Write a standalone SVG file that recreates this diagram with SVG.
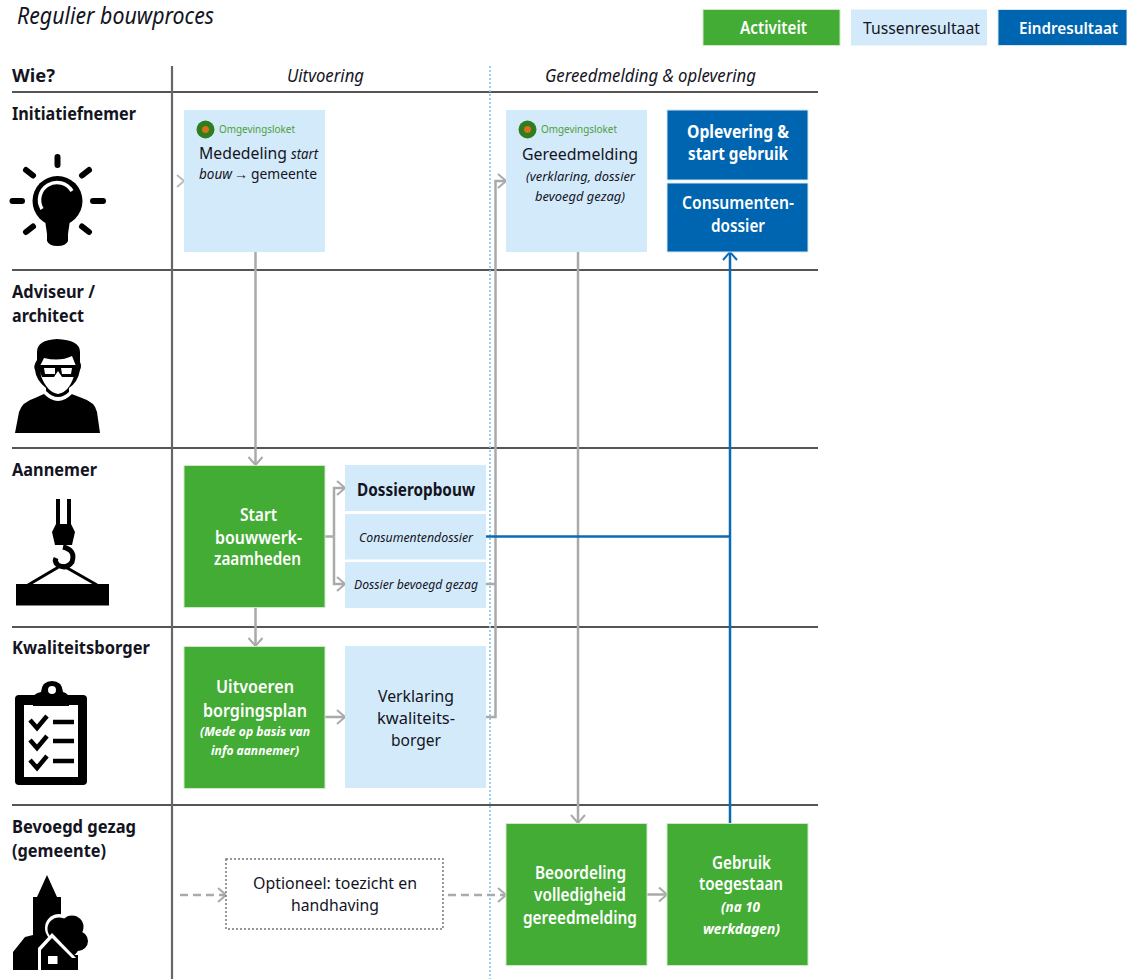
<svg xmlns="http://www.w3.org/2000/svg" width="1127" height="979" viewBox="0 0 1127 979">
<style>
text{font-family:"Noto Sans","Open Sans","Liberation Sans",sans-serif;fill:#14141f;font-size:17px}
.b{font-weight:700}
.i{font-style:italic}
.w{fill:#fff}
.s{font-size:13px}
.m{font-size:14px}
.h{font-size:18px}
.ws{font-weight:600}
.g{fill:#43ac34;stroke:#cfe8c8;stroke-width:1}
.l{fill:#d3eafa}
.d{fill:#0065b0;stroke:#d5e6f3;stroke-width:1}
.rule{stroke:#555;stroke-width:1.8;fill:none}
.c{stroke:#aaa;stroke-width:2.500;fill:none}
.bl{stroke:#0a6ab4;stroke-width:2.500;fill:none}
.dash{stroke-dasharray:8 5}
.ic{fill:#000;stroke:none}
.logotxt{font-size:10px;fill:#4f9e3c}
</style>
<defs>
<marker id="ch" viewBox="0 0 10 16" refX="9" refY="8" markerWidth="10" markerHeight="16" markerUnits="userSpaceOnUse" orient="auto"><path d="M1 1L9 8L1 15" fill="none" stroke="#aaa" stroke-width="2"/></marker>
<marker id="chb" viewBox="0 0 10 16" refX="9" refY="8" markerWidth="10" markerHeight="16" markerUnits="userSpaceOnUse" orient="auto"><path d="M1 1L9 8L1 15" fill="none" stroke="#0a6ab4" stroke-width="2"/></marker>
<g id="logo"><circle r="9" fill="#2f7d1e"/><circle r="3.500" fill="#d9701c"/></g>
</defs>
<rect width="1127" height="979" fill="#fff"/>

<g id="grid">
<path class="rule" d="M12 92H818M12 270H818M12 448H818M12 627H818M12 805H818"/>
<path d="M172 66V979" stroke="#666" stroke-width="2.200" fill="none"/>
<path d="M490 66V979" stroke="#8fcdf0" stroke-width="1.800" stroke-dasharray="2 2" fill="none"/>
</g>

<g id="title"><text class="i" x="17" y="24" style="font-size:24px" textLength="197" lengthAdjust="spacingAndGlyphs">Regulier bouwproces</text></g>

<g id="legend">
<rect class="g" x="703" y="9.500" width="137" height="36"/><text class="w ws" x="740" y="34" textLength="67" lengthAdjust="spacingAndGlyphs">Activiteit</text>
<rect class="l" x="851" y="9.500" width="136" height="36"/><text x="863" y="34" textLength="117" lengthAdjust="spacingAndGlyphs">Tussenresultaat</text>
<rect class="d" x="998" y="9.500" width="129" height="36"/><text class="w ws" style="font-size:15.500px" x="1019" y="34" textLength="99" lengthAdjust="spacingAndGlyphs">Eindresultaat</text>
</g>

<g id="headers">
<text class="b" x="12" y="82" textLength="43" lengthAdjust="spacingAndGlyphs">Wie?</text>
<text class="i h" x="287" y="82" textLength="77" lengthAdjust="spacingAndGlyphs">Uitvoering</text>
<text class="i h" x="545" y="82" textLength="211" lengthAdjust="spacingAndGlyphs">Gereedmelding &amp; oplevering</text>
</g>

<g id="connectors">
<path d="M177 175L184 181L177 187" fill="none" stroke="#bbb" stroke-width="2"/>
<path class="c" d="M255.500 252V465" marker-end="url(#ch)"/>
<path class="c" d="M255.500 608V646" marker-end="url(#ch)"/>
<path class="c" d="M325 536.500H334"/>
<path class="c" d="M334 536.500V488H345" marker-end="url(#ch)"/>
<path class="c" d="M334 536.500V584H345" marker-end="url(#ch)"/>
<path class="c" d="M325 717H345" marker-end="url(#ch)"/>
<path class="c" d="M486 717H495.500V181H506" marker-end="url(#ch)"/>
<path class="c" d="M486 584H495.500"/>
<path class="c" d="M578 252V823" marker-end="url(#ch)"/>
<path class="c" d="M647 894.500H667" marker-end="url(#ch)"/>
<path class="c dash" d="M180 895H226" marker-end="url(#ch)"/>
<path class="c dash" d="M448 895H506" marker-end="url(#ch)"/>
<path class="bl" d="M486 536.500H730"/>
<path class="bl" d="M730 823V252" marker-end="url(#chb)"/>
</g>

<g id="role-initiatiefnemer">
<text class="b" x="12" y="120" textLength="124" lengthAdjust="spacingAndGlyphs">Initiatiefnemer</text>
<circle class="ic" cx="57.500" cy="201" r="25"/>
<path class="ic" d="M45 220H70L68 234V241Q66 246 57.500 246Q49 246 47 241V234Z"/>
<path d="M42 209A17 17 0 0 1 72 191" fill="none" stroke="#fff" stroke-width="3.500"/>
<path d="M57.500 157V165M12.500 201H22M93 201H103M26 170L33 175.500M89 170L82 175.500M26 232L33 226.500M89 232L82 226.500" stroke="#000" stroke-width="6" stroke-linecap="round" fill="none"/>
</g>

<g id="role-adviseur">
<text class="b" x="12" y="298" textLength="83" lengthAdjust="spacingAndGlyphs">Adviseur /</text>
<text class="b" x="12" y="322" textLength="72" lengthAdjust="spacingAndGlyphs">architect</text>
<path class="ic" d="M15 433L19 412Q22 402 35 398L46 393V388Q36 380 35 370Q33 366 37 360V352Q37 340 57 339Q80 340 80 352V362Q82 366 80 370Q78 382 69 388V393L82 398Q95 402 97 412L100 433Z"/>
<path d="M40 366L41 376Q47 392 58 394Q69 392 74 376L76 366L72 356Q60 362 44 358Z" fill="#fff"/>
<path d="M46 391Q58 403 70 391L72 394Q58 408 44 394Z" fill="#fff"/>
<path d="M37 365H78V369L75 377H62L58 371L54 377H42L39 369Z" fill="#000"/>
<path d="M44 368H55V374H45ZM61 368H72L71 374H62Z" fill="#fff"/>
</g>

<g id="role-aannemer">
<text class="b" x="12" y="476" textLength="85" lengthAdjust="spacingAndGlyphs">Aannemer</text>
<path d="M58 499V527M69 499V527" stroke="#000" stroke-width="4" fill="none"/>
<path class="ic" d="M56 524H71L75 532L72 545H55L52 532Z"/>
<path d="M63 547Q76 550 72 562Q66 570 58 565Q54 562 56 558" stroke="#000" stroke-width="5" fill="none"/>
<path d="M62 565L28 585M62 565L97 585" stroke="#000" stroke-width="3" fill="none"/>
<rect class="ic" x="16" y="584" width="93" height="21.500"/>
</g>

<g id="role-kwaliteitsborger">
<text class="b" x="12" y="654" textLength="138" lengthAdjust="spacingAndGlyphs">Kwaliteitsborger</text>
<rect class="ic" x="15" y="695" width="72" height="90" rx="4"/>
<rect x="24" y="705" width="54" height="72" fill="#fff"/>
<path class="ic" d="M33 706V700Q33 693 41 692Q42 681 52 681Q62 681 63 692Q69 693 69 700V706Z"/>
<circle cx="52" cy="690" r="4" fill="#fff"/>
<path d="M30 720L37 728L47 716M30 740L37 748L47 736M30 760L37 768L47 756M53 722H74M53 741H74M53 761H74" stroke="#000" stroke-width="4.500" fill="none"/>
</g>

<g id="role-bevoegd-gezag">
<text class="b" x="12" y="833" textLength="124" lengthAdjust="spacingAndGlyphs">Bevoegd gezag</text>
<text class="b" x="12" y="857" textLength="94" lengthAdjust="spacingAndGlyphs">(gemeente)</text>
<path class="ic" d="M47 875L57 897H61V945H60V970H13V952L25 937L33 935V897H37Z"/>
<g fill="#fff"><circle cx="59" cy="928" r="14"/><circle cx="72" cy="926" r="14"/><circle cx="79" cy="941" r="12"/><circle cx="68" cy="947" r="13"/></g>
<g class="ic"><circle cx="59" cy="929" r="11.500"/><circle cx="72" cy="927" r="11.500"/><circle cx="78" cy="941" r="10"/><circle cx="68" cy="946" r="11"/><rect x="69" y="955" width="9" height="15"/></g>
<path d="M52 933L78 960V979H38V948Z" fill="#fff"/>
<path class="ic" d="M52 938L72 958V970H41V950Z"/>
<rect class="ic" x="72" y="958" width="6" height="12"/>
<rect x="48" y="956" width="9.500" height="8" fill="#fff"/>
</g>

<g id="node-mededeling">
<rect class="l" x="184" y="110" width="141" height="142"/>
<use href="#logo" x="205.500" y="129.500"/>
<text class="logotxt" x="219" y="133" textLength="76" lengthAdjust="spacingAndGlyphs">Omgevingsloket</text>
<text x="199" y="159" textLength="88" lengthAdjust="spacingAndGlyphs">Mededeling</text>
<text class="i m" x="291" y="159" textLength="27" lengthAdjust="spacingAndGlyphs">start</text>
<text class="i m" x="199" y="179" textLength="33" lengthAdjust="spacingAndGlyphs">bouw</text>
<text class="m" x="234" y="179" textLength="14" lengthAdjust="spacingAndGlyphs">→</text>
<text class="m" style="font-size:15px" x="251" y="179" textLength="66" lengthAdjust="spacingAndGlyphs">gemeente</text>
</g>

<g id="node-gereedmelding">
<rect class="l" x="506" y="110" width="141" height="142"/>
<use href="#logo" x="527.500" y="129.500"/>
<text class="logotxt" x="541" y="133" textLength="76" lengthAdjust="spacingAndGlyphs">Omgevingsloket</text>
<text x="522" y="160" textLength="116" lengthAdjust="spacingAndGlyphs">Gereedmelding</text>
<text class="i s" x="526" y="181" textLength="109" lengthAdjust="spacingAndGlyphs">(verklaring, dossier</text>
<text class="i s" x="535" y="201" textLength="90" lengthAdjust="spacingAndGlyphs">bevoegd gezag)</text>
</g>

<g id="node-oplevering">
<rect class="d" x="667" y="110" width="141" height="70"/>
<text class="w b" x="687" y="138" textLength="102" lengthAdjust="spacingAndGlyphs">Oplevering &amp;</text>
<text class="w b" x="688" y="160" textLength="100" lengthAdjust="spacingAndGlyphs">start gebruik</text>
</g>

<g id="node-consumentendossier">
<rect class="d" x="667" y="183" width="141" height="69"/>
<text class="w ws" x="682" y="209" textLength="112" lengthAdjust="spacingAndGlyphs">Consumenten-</text>
<text class="w ws" x="711" y="232" textLength="54" lengthAdjust="spacingAndGlyphs">dossier</text>
</g>

<g id="node-start">
<rect class="g" x="184" y="465.500" width="141" height="142"/>
<text class="w ws" x="240" y="521" textLength="37" lengthAdjust="spacingAndGlyphs">Start</text>
<text class="w ws" x="215" y="544" textLength="87" lengthAdjust="spacingAndGlyphs">bouwwerk-</text>
<text class="w ws" x="214" y="565" textLength="87" lengthAdjust="spacingAndGlyphs">zaamheden</text>
</g>

<g id="node-dossieropbouw">
<rect class="l" x="345" y="465" width="141" height="46"/>
<text class="b" x="357" y="496" textLength="118" lengthAdjust="spacingAndGlyphs">Dossieropbouw</text>
</g>
<g id="node-dossier-consument">
<rect class="l" x="345" y="514" width="141" height="45.500"/>
<text class="i s" x="359" y="542" textLength="114" lengthAdjust="spacingAndGlyphs">Consumentendossier</text>
</g>
<g id="node-dossier-gezag">
<rect class="l" x="345" y="562" width="141" height="46"/>
<text class="i s" x="354" y="589" textLength="124" lengthAdjust="spacingAndGlyphs">Dossier bevoegd gezag</text>
</g>

<g id="node-uitvoeren">
<rect class="g" x="184" y="646.500" width="141" height="142"/>
<text class="w ws" x="216" y="693" textLength="78" lengthAdjust="spacingAndGlyphs">Uitvoeren</text>
<text class="w ws" x="203" y="717" textLength="104" lengthAdjust="spacingAndGlyphs">borgingsplan</text>
<text class="w b i s" x="200" y="736" textLength="110" lengthAdjust="spacingAndGlyphs">(Mede op basis van</text>
<text class="w b i s" x="211" y="755" textLength="88" lengthAdjust="spacingAndGlyphs">info aannemer)</text>
</g>

<g id="node-verklaring">
<rect class="l" x="345" y="646" width="141" height="142"/>
<text x="378" y="702" textLength="76" lengthAdjust="spacingAndGlyphs">Verklaring</text>
<text x="377" y="724" textLength="78" lengthAdjust="spacingAndGlyphs">kwaliteits-</text>
<text x="391" y="746" textLength="50" lengthAdjust="spacingAndGlyphs">borger</text>
</g>

<g id="node-optioneel">
<rect x="226" y="859" width="217" height="70" fill="#fff" stroke="#777" stroke-width="1.500" stroke-dasharray="2 2"/>
<text x="253" y="889" textLength="164" lengthAdjust="spacingAndGlyphs">Optioneel: toezicht en</text>
<text x="291" y="911" textLength="88" lengthAdjust="spacingAndGlyphs">handhaving</text>
</g>

<g id="node-beoordeling">
<rect class="g" x="506" y="823.500" width="141" height="142"/>
<text class="w ws" x="535" y="879" textLength="91" lengthAdjust="spacingAndGlyphs">Beoordeling</text>
<text class="w ws" x="534" y="901" textLength="92" lengthAdjust="spacingAndGlyphs">volledigheid</text>
<text class="w ws" x="523" y="924" textLength="114" lengthAdjust="spacingAndGlyphs">gereedmelding</text>
</g>

<g id="node-gebruik">
<rect class="g" x="667" y="823.500" width="141" height="142"/>
<text class="w ws" x="712" y="869" textLength="59" lengthAdjust="spacingAndGlyphs">Gebruik</text>
<text class="w ws" x="699" y="890" textLength="84" lengthAdjust="spacingAndGlyphs">toegestaan</text>
<text class="w b i m" x="721" y="912" textLength="39" lengthAdjust="spacingAndGlyphs">(na 10</text>
<text class="w b i m" x="703" y="934" textLength="77" lengthAdjust="spacingAndGlyphs">werkdagen)</text>
</g>
</svg>
